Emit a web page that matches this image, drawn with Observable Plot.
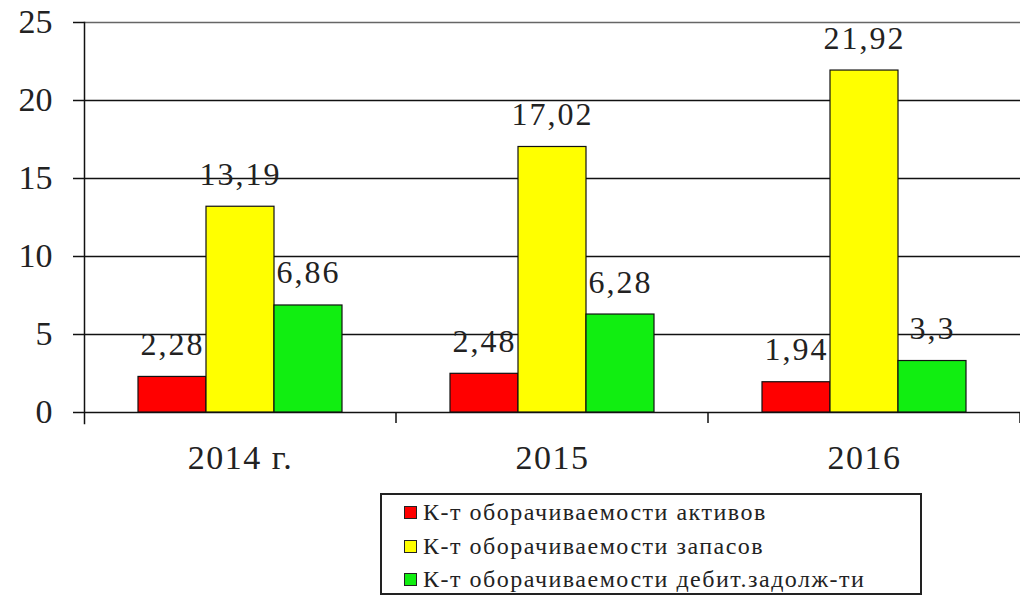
<!DOCTYPE html>
<html>
<head>
<meta charset="utf-8">
<script src="https://cdn.jsdelivr.net/npm/d3@7"></script>
<script src="https://cdn.jsdelivr.net/npm/@observablehq/plot@0.6"></script>
<style>
  html, body { margin: 0; padding: 0; background: #fff; }
  #wrap { position: relative; width: 1020px; height: 598px; font-family: "Liberation Serif", "Times New Roman", Tinos, "DejaVu Serif", "Noto Serif", serif; }
  #wrap svg text { font-family: "Liberation Serif", "Times New Roman", Tinos, "DejaVu Serif", "Noto Serif", serif; }
  #wrap svg g[aria-label="text"] text { letter-spacing: 2px; }
  #wrap svg g[aria-label="fx-axis tick label"] text { letter-spacing: 1.5px; }
  #legend { position: absolute; left: 380px; top: 493px; width: 538px; height: 98px; border: 2px solid #222; box-sizing: content-box; }
  .row { position: absolute; left: 22px; display: flex; align-items: center; font-size: 24px; color: #222; white-space: nowrap; letter-spacing: 1.5px; }
  .sw { width: 11px; height: 11px; border: 1px solid #222; margin-right: 6px; }
</style>
</head>
<body>
<div id="wrap"></div>
<script>
const years = ["2014 г.", "2015", "2016"];
const seriesNames = [
  "К-т оборачиваемости активов",
  "К-т оборачиваемости запасов",
  "К-т оборачиваемости дебит.задолж-ти"
];
const assets = [2.28, 2.48, 1.94];
const stocks = [13.19, 17.02, 21.92];
const receivables = [6.86, 6.28, 3.3];
const colors = ["#ff0000", "#ffff00", "#11ee11"];
const yTicks = [0, 5, 10, 15, 20, 25];

const seriesValues = [assets, stocks, receivables];
const data = [];
years.forEach((yr, i) => seriesNames.forEach((s, j) => data.push({year: yr, series: s, value: seriesValues[j][i]})));

const fmt = v => String(v).replace(".", ",");

// rendered once per facet: short downward tick at the right edge of each category band
const boundaryTick = (index, scales) => {
  const x = scales.x, y = scales.y;
  const xr = x.range()[1];
  const y0 = y(0);
  const g = d3.create("svg:g").attr("stroke", "#111").attr("stroke-width", 1.5);
  g.append("line").attr("x1", xr).attr("x2", xr).attr("y1", y0).attr("y2", y0 + 11);
  return g.node();
};

const chart = Plot.plot({
  width: 1020,
  height: 488,
  marginLeft: 83,
  marginRight: 0,
  marginTop: 22,
  marginBottom: 76,
  style: {fontFamily: "'Liberation Serif', 'Times New Roman', Tinos, 'DejaVu Serif', serif", color: "#222", background: "#fff"},
  fx: {domain: years, padding: 0, label: null},
  x: {domain: seriesNames, paddingInner: 0, paddingOuter: 0.765, axis: null},
  y: {domain: [0, 25], label: null},
  color: {domain: seriesNames, range: colors},
  marks: [
    Plot.gridY(yTicks.filter(t => t < 25), {stroke: "#111", strokeOpacity: 1, strokeWidth: 1.5}),
    Plot.gridY(yTicks.filter(t => t === 25), {stroke: "#666", strokeOpacity: 1, strokeWidth: 1.5}),
    Plot.frame({anchor: "left", facetAnchor: "left", stroke: "#111", strokeWidth: 1.5, insetBottom: -11}),
    Plot.axisY(yTicks, {tickSize: 11, tickPadding: 21, fontSize: 34, label: null, stroke: "#111", strokeWidth: 1.5, fill: "#222"}),
    Plot.axisFx({anchor: "bottom", tickSize: 0, tickPadding: 32, fontSize: 34, label: null, fill: "#222"}),
    Plot.barY(data, {fx: "year", x: "series", y: "value", fill: "series", stroke: "#111", strokeWidth: 1.2}),
    Plot.text(data, {fx: "year", x: "series", y: "value", text: d => fmt(d.value), lineAnchor: "bottom", dy: -22, fontSize: 32, fill: "#222"}),
    boundaryTick
  ]
});

const wrap = document.getElementById("wrap");
wrap.appendChild(chart);

const legend = document.createElement("div");
legend.id = "legend";
seriesNames.forEach((s, i) => {
  const row = document.createElement("div");
  row.className = "row";
  row.style.top = (4 + i * 33.5) + "px";
  const sw = document.createElement("span");
  sw.className = "sw";
  sw.style.background = colors[i];
  const t = document.createElement("span");
  t.textContent = s;
  row.appendChild(sw);
  row.appendChild(t);
  legend.appendChild(row);
});
wrap.appendChild(legend);
</script>
</body>
</html>
